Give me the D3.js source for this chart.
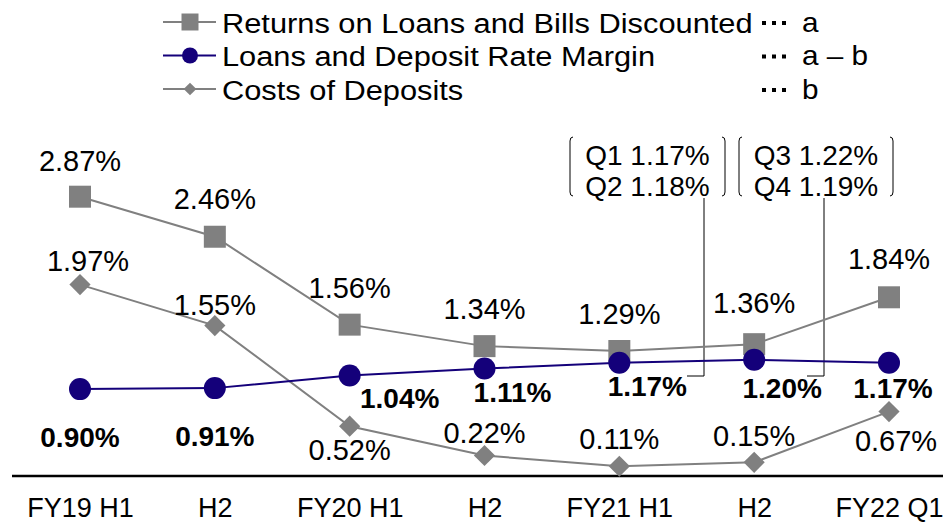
<!DOCTYPE html>
<html>
<head>
<meta charset="utf-8">
<script src="https://cdn.jsdelivr.net/npm/d3@7"></script>
<style>
  body { margin: 0; background: #fff; }
  text { font-family: "Liberation Sans", Arial, sans-serif; fill: #000; }
</style>
</head>
<body>
<script>
// chart data
var periods = ["FY19 H1", "H2", "FY20 H1", "H2", "FY21 H1", "H2", "FY22 Q1"];
var returnsLoans = [2.87, 2.46, 1.56, 1.34, 1.29, 1.36, 1.84];
var rateMargin = [0.90, 0.91, 1.04, 1.11, 1.17, 1.20, 1.17];
var depositCosts = [1.97, 1.55, 0.52, 0.22, 0.11, 0.15, 0.67];
var quarterNotes = [["Q1 1.17%", "Q2 1.18%"], ["Q3 1.22%", "Q4 1.19%"]];
var legendNames = ["Returns on Loans and Bills Discounted", "Loans and Deposit Rate Margin", "Costs of Deposits"];
var legendKeys = ["a", "a \u2013 b", "b"];

var width = 943, height = 523;
var gray = "#808080", navy = "#14007a";

var svg = d3.select("body").append("svg")
    .attr("width", width)
    .attr("height", height);

// scales
var x = d3.scalePoint()
    .domain(d3.range(periods.length))
    .range([80, 889]);

var y = d3.scaleLinear()
    .domain([0, 3])
    .range([477, 184]);

// baseline axis
var xAxis = d3.axisBottom(x)
    .tickSize(0)
    .tickPadding(22)
    .tickFormat(function(i){ return periods[i]; });

var axisG = svg.append("g")
    .attr("transform", "translate(0,476)")
    .call(xAxis);
axisG.select(".domain").remove();
axisG.selectAll("text")
    .style("font-size", "27px")
    .style("font-family", "'Liberation Sans', Arial, sans-serif");
axisG.append("line")
    .attr("x1", 12).attr("x2", width)
    .attr("y1", 0).attr("y2", 0)
    .attr("stroke", "#000")
    .attr("stroke-width", 2.5);

var line = d3.line()
    .x(function(d, i){ return x(i); })
    .y(function(d){ return y(d); });

var fmt = function(v){ return v.toFixed(2) + "%"; };

// callout leader lines (drawn under the markers)
var noteX = [704, 824];
noteX.forEach(function(nx){
    svg.append("path")
        .attr("d", "M" + nx + ",198V376H" + (nx - 17))
        .attr("fill", "none")
        .attr("stroke", "#000")
        .attr("stroke-width", 1);
});

// series lines
svg.append("path").datum(returnsLoans)
    .attr("d", line).attr("fill", "none")
    .attr("stroke", gray).attr("stroke-width", 2);
svg.append("path").datum(depositCosts)
    .attr("d", line).attr("fill", "none")
    .attr("stroke", gray).attr("stroke-width", 2);
svg.append("path").datum(rateMargin)
    .attr("d", line).attr("fill", "none")
    .attr("stroke", navy).attr("stroke-width", 2);

// markers
var sq = d3.symbol().type(d3.symbolSquare).size(22 * 22);
var dia = d3.symbol().type(d3.symbolSquare).size(15 * 15);
var circ = d3.symbol().type(d3.symbolCircle).size(Math.PI * 11 * 11);

svg.selectAll(".sq").data(returnsLoans).enter().append("path")
    .attr("class", "sq")
    .attr("d", sq)
    .attr("transform", function(d, i){ return "translate(" + x(i) + "," + y(d) + ")"; })
    .attr("fill", gray);

svg.selectAll(".dia").data(depositCosts).enter().append("path")
    .attr("class", "dia")
    .attr("d", dia)
    .attr("transform", function(d, i){ return "translate(" + x(i) + "," + y(d) + ") rotate(45)"; })
    .attr("fill", gray);

svg.selectAll(".circ").data(rateMargin).enter().append("path")
    .attr("class", "circ")
    .attr("d", circ)
    .attr("transform", function(d, i){ return "translate(" + x(i) + "," + y(d) + ")"; })
    .attr("fill", navy);

// value labels
var retOff = [[0, -36], [0, -38], [0, -37], [0, -37], [0, -37], [0, -41], [0, -38]];
var costOff = [[8, -24], [0, -21], [0, 24], [0, -23], [0, -27], [0, -26], [7, 29]];
var marOff = [[0, 48], [0, 48], [50, 23], [28, 24], [28, 24], [28, 29], [4, 26]];

function labels(data, offs, bold){
    svg.selectAll(null).data(data).enter().append("text")
        .attr("x", function(d, i){ return x(i) + offs[i][0]; })
        .attr("y", function(d, i){ return y(d) + offs[i][1]; })
        .attr("text-anchor", "middle")
        .attr("dominant-baseline", "central")
        .style("font-size", bold ? "28px" : "29px")
        .style("font-weight", bold ? "bold" : "normal")
        .text(fmt);
}
labels(returnsLoans, retOff, false);
labels(depositCosts, costOff, false);
labels(rateMargin, marOff, true);

// quarter callouts with brackets
var boxLeft = [570, 739], boxRight = [725, 893];
quarterNotes.forEach(function(lines, k){
    var l = boxLeft[k], r = boxRight[k], t = 137, b = 196;
    svg.append("path")
        .attr("d", "M" + (l + 3) + "," + t + "Q" + l + "," + t + " " + l + "," + (t + 4) +
                   "V" + (b - 4) + "Q" + l + "," + b + " " + (l + 3) + "," + b)
        .attr("fill", "none").attr("stroke", "#000").attr("stroke-width", 1);
    svg.append("path")
        .attr("d", "M" + (r - 3) + "," + t + "Q" + r + "," + t + " " + r + "," + (t + 4) +
                   "V" + (b - 4) + "Q" + r + "," + b + " " + (r - 3) + "," + b)
        .attr("fill", "none").attr("stroke", "#000").attr("stroke-width", 1);
    lines.forEach(function(s, j){
        svg.append("text")
            .attr("x", (l + r) / 2)
            .attr("y", 155 + j * 31)
            .attr("text-anchor", "middle")
            .attr("dominant-baseline", "central")
            .style("font-size", "28px")
            .text(s);
    });
});

// legend
var legendColors = [gray, navy, gray];
var legendSyms = [d3.symbol().type(d3.symbolSquare).size(17 * 17),
                  d3.symbol().type(d3.symbolCircle).size(Math.PI * 8 * 8),
                  d3.symbol().type(d3.symbolSquare).size(9 * 9)];
legendNames.forEach(function(name, i){
    var ly = 22 + i * 33.5;
    var g = svg.append("g").attr("transform", "translate(0," + ly + ")");
    g.append("line").attr("x1", 163).attr("x2", 216)
        .attr("stroke", legendColors[i]).attr("stroke-width", 2);
    g.append("path").attr("d", legendSyms[i])
        .attr("transform", "translate(190,0)" + (i === 2 ? " rotate(45)" : ""))
        .attr("fill", legendColors[i]);
    g.append("text")
        .attr("transform", "translate(222,1) scale(1.1,1)")
        .attr("dominant-baseline", "central")
        .style("font-size", "28px")
        .text(name);
    // dotted leader: three square dots
    g.selectAll(null).data([0, 1, 2]).enter().append("rect")
        .attr("x", function(d){ return 762 + d * 10; })
        .attr("y", -1)
        .attr("width", 4).attr("height", 4)
        .attr("fill", "#000");
    g.append("text")
        .attr("transform", "translate(802,0) scale(1.1,1)")
        .attr("dominant-baseline", "central")
        .style("font-size", "27px")
        .text(legendKeys[i]);
});
</script>
</body>
</html>
